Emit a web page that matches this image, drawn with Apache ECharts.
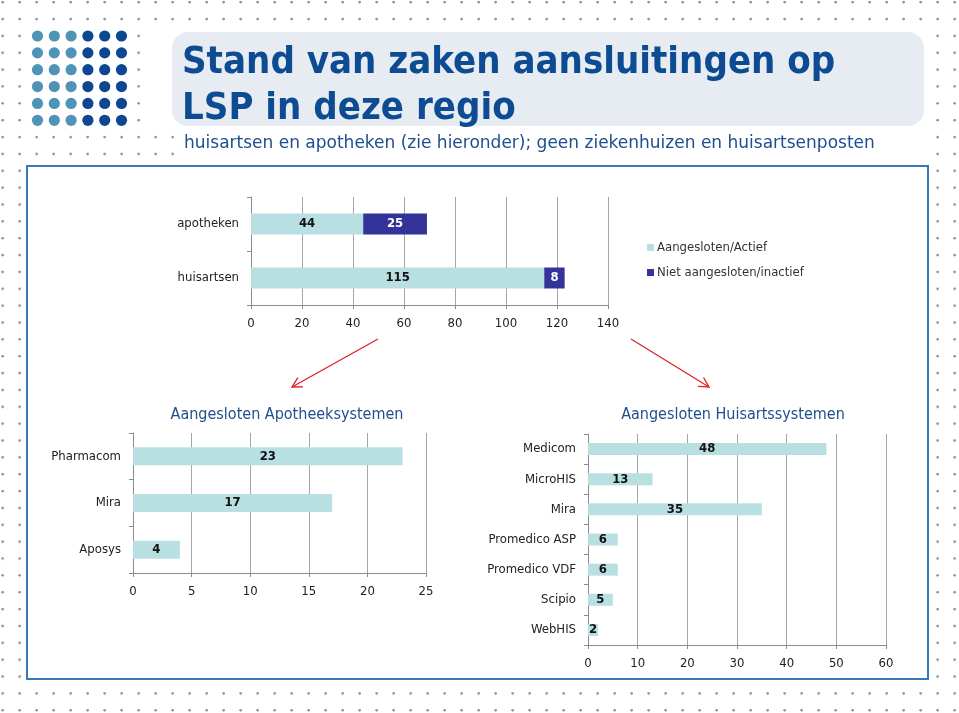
<!DOCTYPE html>
<html>
<head>
<meta charset="utf-8">
<script src="https://cdn.jsdelivr.net/npm/echarts@6/dist/echarts.min.js"></script>
<style>
  html, body { margin: 0; padding: 0; background: #ffffff; }
  #chart {
    width: 959px; height: 713px;
    background-color: #ffffff;
    background-image: radial-gradient(circle at 2.6px 2.2px, #8795a3 0px, #8795a3 1.0px, rgba(255,255,255,0) 1.6px);
    background-size: 17px 16.86px;
  }
</style>
</head>
<body>
<div id="chart"></div>
<script>
// ---- data ----
const topCategories = ['apotheken', 'huisartsen'];
const aangeslotenActief = [44, 115];
const nietAangesloten = [25, 8];
const topAxisTicks = { min: 0, max: 140, interval: 20 };

const apoCategories = ['Pharmacom', 'Mira', 'Aposys'];
const apoValues = [23, 17, 4];
const apoAxisTicks = { min: 0, max: 25, interval: 5 };

const haCategories = ['Medicom', 'MicroHIS', 'Mira', 'Promedico ASP', 'Promedico VDF', 'Scipio', 'WebHIS'];
const haValues = [48, 13, 35, 6, 6, 5, 2];
const haAxisTicks = { min: 0, max: 60, interval: 10 };

const legendNames = ['Aangesloten/Actief', 'Niet aangesloten/inactief'];
// ---------------

const FONT = '"DejaVu Sans Condensed", "DejaVu Sans", sans-serif';
const FONT_WIDE = '"DejaVu Sans", sans-serif';
const LIGHT = '#b8dfe2';
const DARK = '#333399';
const GRIDC = '#a6a6a6';
const AXISC = '#8c8c8c';

const chart = echarts.init(document.getElementById('chart'), null, { renderer: 'canvas' });

function valueAxis(gridIndex, t, margin) {
  return {
    type: 'value', gridIndex, min: t.min, max: t.max, interval: t.interval,
    axisLine: { show: true, lineStyle: { color: AXISC } },
    axisTick: { show: true, length: 4, lineStyle: { color: AXISC } },
    splitLine: { show: true, lineStyle: { color: GRIDC, width: 1 } },
    axisLabel: { color: '#222', fontSize: 13, fontFamily: FONT, margin: margin }
  };
}
function catAxis(gridIndex, cats) {
  return {
    type: 'category', gridIndex, data: cats, inverse: true,
    axisLine: { show: true, lineStyle: { color: AXISC } },
    axisTick: { show: true, length: 4, lineStyle: { color: AXISC } },
    axisLabel: { color: '#222', fontSize: 13, fontFamily: FONT, margin: 12 }
  };
}

// decorative graphics
const graphics = [];
graphics.push({ type: 'rect', z: -20, shape: { x: 146, y: 28, width: 784, height: 100 }, style: { fill: '#ffffff' } });
graphics.push({ type: 'rect', z: -20, shape: { x: 178, y: 128, width: 752, height: 38 }, style: { fill: '#ffffff' } });
graphics.push({ type: 'rect', z: -19, shape: { x: 172, y: 32, width: 752, height: 94, r: 16 }, style: { fill: '#e6ecf1' } });
graphics.push({ type: 'rect', z: -19, shape: { x: 27, y: 166, width: 901, height: 513 }, style: { fill: '#ffffff', stroke: '#3a78b5', lineWidth: 2 } });
for (let r = 0; r < 6; r++) {
  for (let c = 0; c < 6; c++) {
    graphics.push({
      type: 'circle', z: -18,
      shape: { cx: 37.5 + c * 16.8, cy: 36 + r * 16.86, r: 5.6 },
      style: { fill: c < 3 ? '#4f93b6' : '#0b4891' }
    });
  }
}
function arrow(x1, y1, x2, y2) {
  const a = Math.atan2(y2 - y1, x2 - x1);
  const L = 11, s = 0.5;
  const p1 = [x2 - L * Math.cos(a - s), y2 - L * Math.sin(a - s)];
  const p2 = [x2 - L * Math.cos(a + s), y2 - L * Math.sin(a + s)];
  graphics.push({ type: 'line', z: -10, shape: { x1, y1, x2, y2 }, style: { stroke: '#dd1f26', lineWidth: 1.3 } });
  graphics.push({ type: 'polyline', z: -10, shape: { points: [p1, [x2, y2], p2] }, style: { stroke: '#dd1f26', lineWidth: 1.3, fill: null } });
}
arrow(378, 339, 292, 387);
arrow(631, 339, 709, 387);

const option = {
  backgroundColor: 'transparent',
  animation: false,
  textStyle: { fontFamily: FONT },
  title: [
    { text: 'Stand van zaken aansluitingen op\nLSP in deze regio', left: 177, top: 35,
      textStyle: { color: '#0d4b92', fontSize: 38, fontWeight: 'bold', lineHeight: 46, fontFamily: FONT } },
    { text: 'huisartsen en apotheken (zie hieronder); geen ziekenhuizen en huisartsenposten', left: 179, top: 130,
      textStyle: { color: '#1d4f8f', fontSize: 17, fontWeight: 'normal', fontFamily: FONT_WIDE } },
    { text: 'Aangesloten Apotheeksystemen', left: 282, top: 402, textAlign: 'center',
      textStyle: { color: '#1f4e8c', fontSize: 16, fontWeight: 'normal', fontFamily: FONT } },
    { text: 'Aangesloten Huisartssystemen', left: 728, top: 402, textAlign: 'center',
      textStyle: { color: '#1f4e8c', fontSize: 16, fontWeight: 'normal', fontFamily: FONT } }
  ],
  legend: {
    data: legendNames, orient: 'vertical', left: 642, top: 236,
    icon: 'rect', itemWidth: 7, itemHeight: 7, itemGap: 12,
    textStyle: { color: '#333', fontSize: 13, fontFamily: FONT, padding: [0, 0, 0, -2] }
  },
  grid: [
    { left: 251, right: 351, top: 197, bottom: 408 },
    { left: 133, right: 533, top: 433, bottom: 140 },
    { left: 588, right: 73, top: 434, bottom: 68 }
  ],
  xAxis: [ valueAxis(0, topAxisTicks, 12), valueAxis(1, apoAxisTicks, 12), valueAxis(2, haAxisTicks, 12) ],
  yAxis: [ catAxis(0, topCategories), catAxis(1, apoCategories), catAxis(2, haCategories) ],
  graphic: graphics,
  series: [
    { name: legendNames[0], type: 'bar', stack: 'top', xAxisIndex: 0, yAxisIndex: 0, data: aangeslotenActief,
      barWidth: 21, itemStyle: { color: LIGHT },
      label: { show: true, position: 'inside', color: '#111', fontWeight: 'bold', fontSize: 13, fontFamily: FONT } },
    { name: legendNames[1], type: 'bar', stack: 'top', xAxisIndex: 0, yAxisIndex: 0, data: nietAangesloten,
      barWidth: 21, itemStyle: { color: DARK },
      label: { show: true, position: 'inside', color: '#fff', fontWeight: 'bold', fontSize: 13, fontFamily: FONT } },
    { name: 'Apotheeksystemen', type: 'bar', xAxisIndex: 1, yAxisIndex: 1, data: apoValues,
      barWidth: 18, itemStyle: { color: LIGHT },
      label: { show: true, position: 'inside', color: '#111', fontWeight: 'bold', fontSize: 13, fontFamily: FONT } },
    { name: 'Huisartssystemen', type: 'bar', xAxisIndex: 2, yAxisIndex: 2, data: haValues,
      barWidth: 12, itemStyle: { color: LIGHT },
      label: { show: true, position: 'inside', color: '#111', fontWeight: 'bold', fontSize: 13, fontFamily: FONT } }
  ]
};
chart.setOption(option);
</script>
</body>
</html>
